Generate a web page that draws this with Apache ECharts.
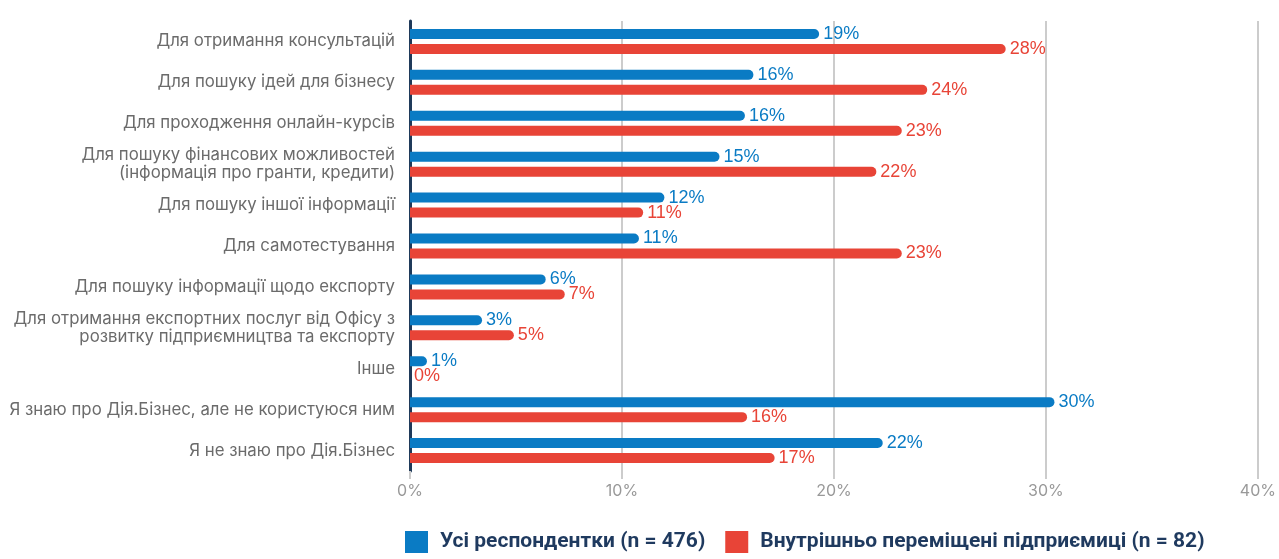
<!DOCTYPE html>
<html>
<head>
<meta charset="utf-8">
<script src="https://cdn.jsdelivr.net/npm/echarts@6/dist/echarts.min.js"></script>
<style>
  html, body { margin: 0; padding: 0; background: #fff; }
  #chart { width: 1279px; height: 559px; }
</style>
</head>
<body>
<div id="chart"></div>
<script>
const categories = [
  'Для отримання консультацій',
  'Для пошуку ідей для бізнесу',
  'Для проходження онлайн-курсів',
  'Для пошуку фінансових можливостей\n(інформація про гранти, кредити)',
  'Для пошуку іншої інформації',
  'Для самотестування',
  'Для пошуку інформації щодо експорту',
  'Для отримання експортних послуг від Офісу з\nрозвитку підприємництва та експорту',
  'Інше',
  'Я знаю про Дія.Бізнес, але не користуюся ним',
  'Я не знаю про Дія.Бізнес'
]
const allRespondents = [19.3, 16.2, 15.8, 14.6, 12.0, 10.8, 6.4, 3.4, 0.8, 30.4, 22.3]
const displaced = [28.1, 24.4, 23.2, 22.0, 11.0, 23.2, 7.3, 4.9, 0, 15.9, 17.2]
const seriesNames = ['Усі респондентки (n = 476)', 'Внутрішньо переміщені підприємиці (n = 82)']
const colors = ['#0a7bc4', '#e84437']

const chart = echarts.init(document.getElementById('chart'))

const makeSeries = (name, data, color) => ({
  name: name,
  type: 'bar',
  data: data,
  barWidth: 10,
  barGap: '50%',
  itemStyle: {
    color: color,
    borderRadius: [0, 5, 5, 0],
  },
  label: {
    show: true,
    position: 'right',
    distance: 4,
    color: color,
    fontFamily: 'Liberation Sans',
    fontSize: 18,
    formatter: (p) => Math.round(p.value) + '%',
  },
})

chart.setOption({
  backgroundColor: '#fff',
  animation: false,
  color: colors,
  grid: {
    left: 410,
    right: 16,
    top: 21,
    bottom: 88,
  },
  legend: {
    left: 400,
    bottom: 1,
    icon: 'rect',
    itemWidth: 23,
    itemHeight: 22,
    itemGap: 20,
    textStyle: {
      fontFamily: 'Roboto',
      fontSize: 21,
      fontWeight: 'bold',
      color: '#1f3a5f',
      padding: [0, 0, 0, 7],
    },
    data: seriesNames,
  },
  xAxis: {
    type: 'value',
    min: 0,
    max: 40,
    interval: 10,
    axisLine: { show: false },
    axisTick: {
      show: true,
      length: 8,
      lineStyle: { color: '#cccccc', width: 2 },
    },
    splitLine: {
      lineStyle: { color: '#cccccc', width: 2 },
    },
    axisLabel: {
      formatter: '{value}%',
      color: '#999999',
      fontFamily: 'Inter',
      fontSize: 16,
      margin: 12,
    },
  },
  yAxis: {
    type: 'category',
    inverse: true,
    data: categories,
    axisLine: {
      show: true,
      lineStyle: { color: '#1f3a5a', width: 3 },
    },
    axisTick: { show: false },
    axisLabel: {
      color: '#6b6b6b',
      fontFamily: 'Inter',
      fontSize: 16.8,
      lineHeight: 18,
      margin: 15,
    },
  },
  series: [
    makeSeries(seriesNames[0], allRespondents, colors[0]),
    makeSeries(seriesNames[1], displaced, colors[1]),
  ],
})
</script>
</body>
</html>
